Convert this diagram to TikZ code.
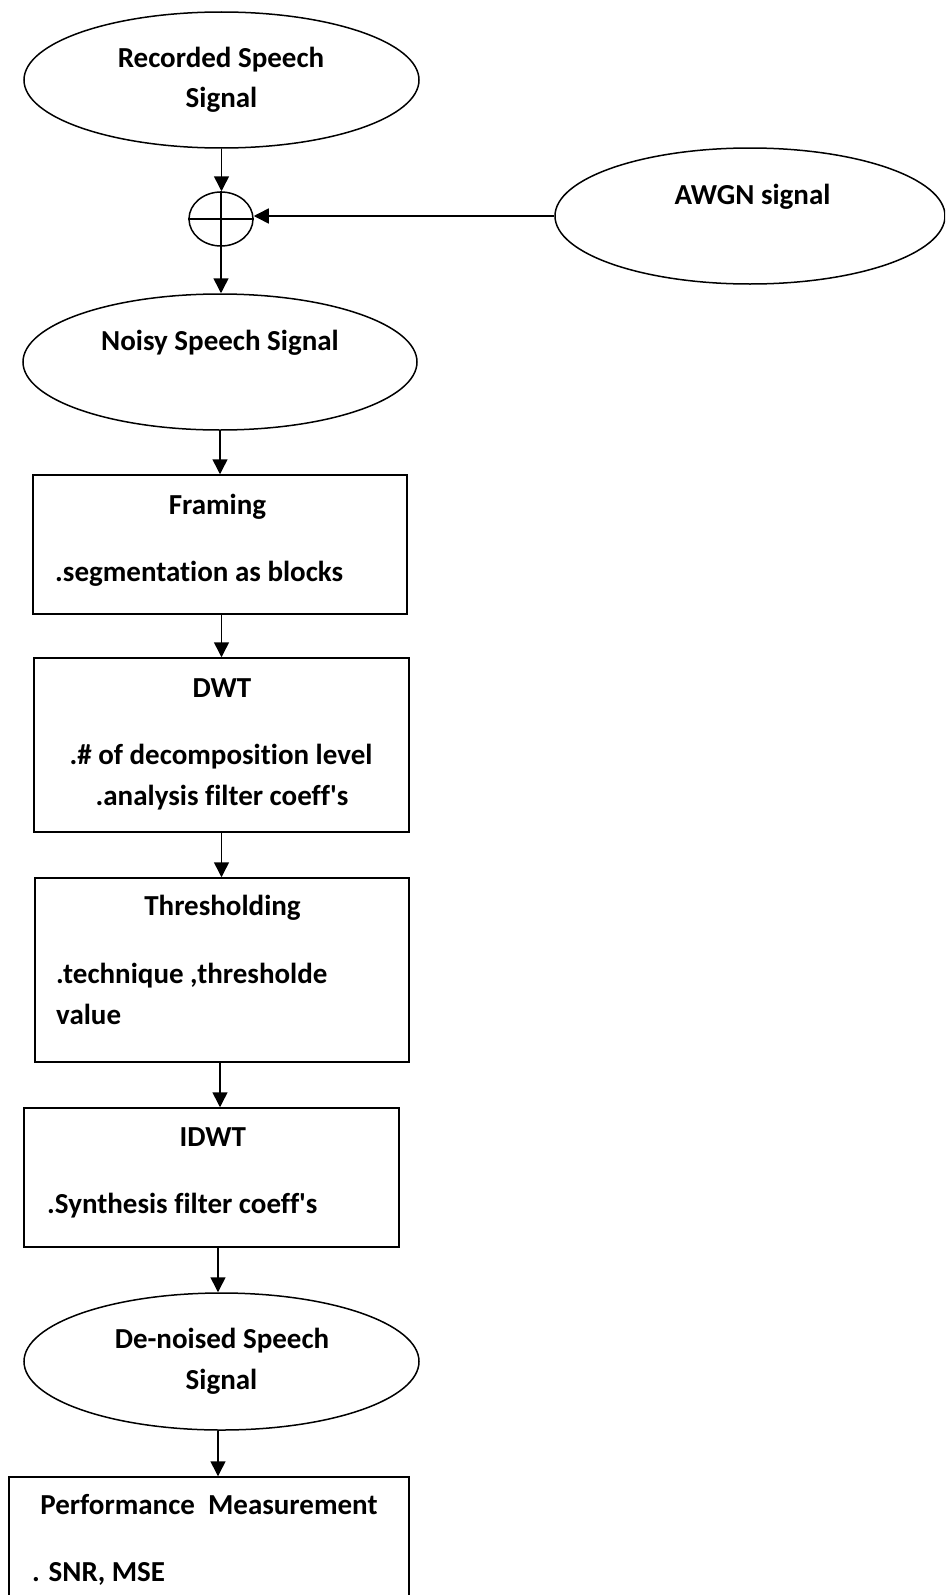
\documentclass[tikz,border=0pt]{standalone}
\usepackage{fontspec}
\setmainfont{Carlito}[Ligatures=NoCommon]
\usetikzlibrary{shapes.geometric,arrows.meta}
\begin{document}
\begin{tikzpicture}[x=1pt,y=-1pt,
  ell/.style={ellipse, draw, line width=1.5pt, inner sep=0pt},
  box/.style={rectangle, draw, line width=1.5pt, inner sep=0pt},
  txt/.style={font=\bfseries\fontsize{29}{40}\selectfont, inner sep=0pt},
  ctr/.style={txt, anchor=base},
  lft/.style={txt, anchor=base west},
  arr/.style={line width=1.5pt, -{Triangle[length=15pt,width=15pt]}}]
\useasboundingbox (0,0) rectangle (945,1595);
\clip (0,0) rectangle (945,1595);

% ellipses and junction
\node[ell, minimum width=395pt, minimum height=136pt] (rec) at (221.5,80) {};
\node[ctr] (rect1) at (221,67) {Recorded Speech};
\node[ctr] (rect2) at (221.5,107) {Signal};

\node[ell, minimum width=64pt, minimum height=54pt] (sum) at (221,219) {};
\draw[line width=1.5pt] (sum.north) -- (sum.south) (sum.west) -- (sum.east);

\node[ell, minimum width=390pt, minimum height=136pt] (awgn) at (750,216) {};
\node[ctr] (awgnt) at (752.5,204) {AWGN signal};

\node[ell, minimum width=394pt, minimum height=136pt] (noisy) at (220,362) {};
\node[ctr] (noisyt) at (220,350) {Noisy Speech Signal};

% boxes
\node[box, minimum width=374pt, minimum height=139pt] (frm) at (220,544.5) {};
\node[ctr] (frmt) at (217.5,514) {Framing};
\node[lft] (frml) at (55,581.7) {.segmentation as blocks};

\node[box, minimum width=375pt, minimum height=174pt] (dwt) at (221.5,745) {};
\node[ctr] (dwtt) at (222,697) {DWT};
\node[ctr] (dwtl1) at (221,764) {.\# of decomposition level};
\node[ctr] (dwtl2) at (222,805) {.analysis filter coeff\textquotesingle s};

\node[box, minimum width=374pt, minimum height=184pt] (thr) at (222,970) {};
\node[ctr] (thrt) at (222.5,915) {Thresholding};
\node[lft] (thrl1) at (56,983) {.technique ,thresholde};
\node[lft] (thrl2) at (56,1024) {value};

\node[box, minimum width=375pt, minimum height=139pt] (idwt) at (211.5,1177.5) {};
\node[ctr] (idwtt) at (212.7,1146.7) {IDWT};
\node[lft] (idwtl) at (47,1213) {.Synthesis filter coeff\textquotesingle s};

\node[ell, minimum width=395pt, minimum height=137pt] (den) at (221.5,1361.5) {};
\node[ctr] (dent1) at (222,1348) {De-noised Speech};
\node[ctr] (dent2) at (221.5,1389) {Signal};

\node[box, minimum width=400pt, minimum height=143pt] (perf) at (209,1548.5) {};
\node[ctr] (perft) at (209,1514) {Performance\ \ Measurement};
\node[lft] (perfl) at (32,1581.7) {. SNR, MSE};

% connectors
\draw[arr] (rec.south) -- (rec.south |- sum.north);
\draw[arr] (awgn.west) -- (awgn.west -| sum.east);
\draw[arr] (sum.south) -- (sum.south |- noisy.north);
\draw[arr] (noisy.south) -- (noisy.south |- frm.north);
\draw[arr] ([xshift=1.5pt]frm.south) -- ([xshift=1.5pt]frm.south |- dwt.north);
\draw[arr] (dwt.south) -- (dwt.south |- thr.north);
\draw[arr] ([xshift=-2pt]thr.south) -- ([xshift=-2pt]thr.south |- idwt.north);
\draw[arr] ([xshift=6.5pt]idwt.south) -- ([xshift=6.5pt]idwt.south |- den.north);
\draw[arr] ([xshift=-3.5pt]den.south) -- ([xshift=-3.5pt]den.south |- perf.north);
\end{tikzpicture}
\end{document}
